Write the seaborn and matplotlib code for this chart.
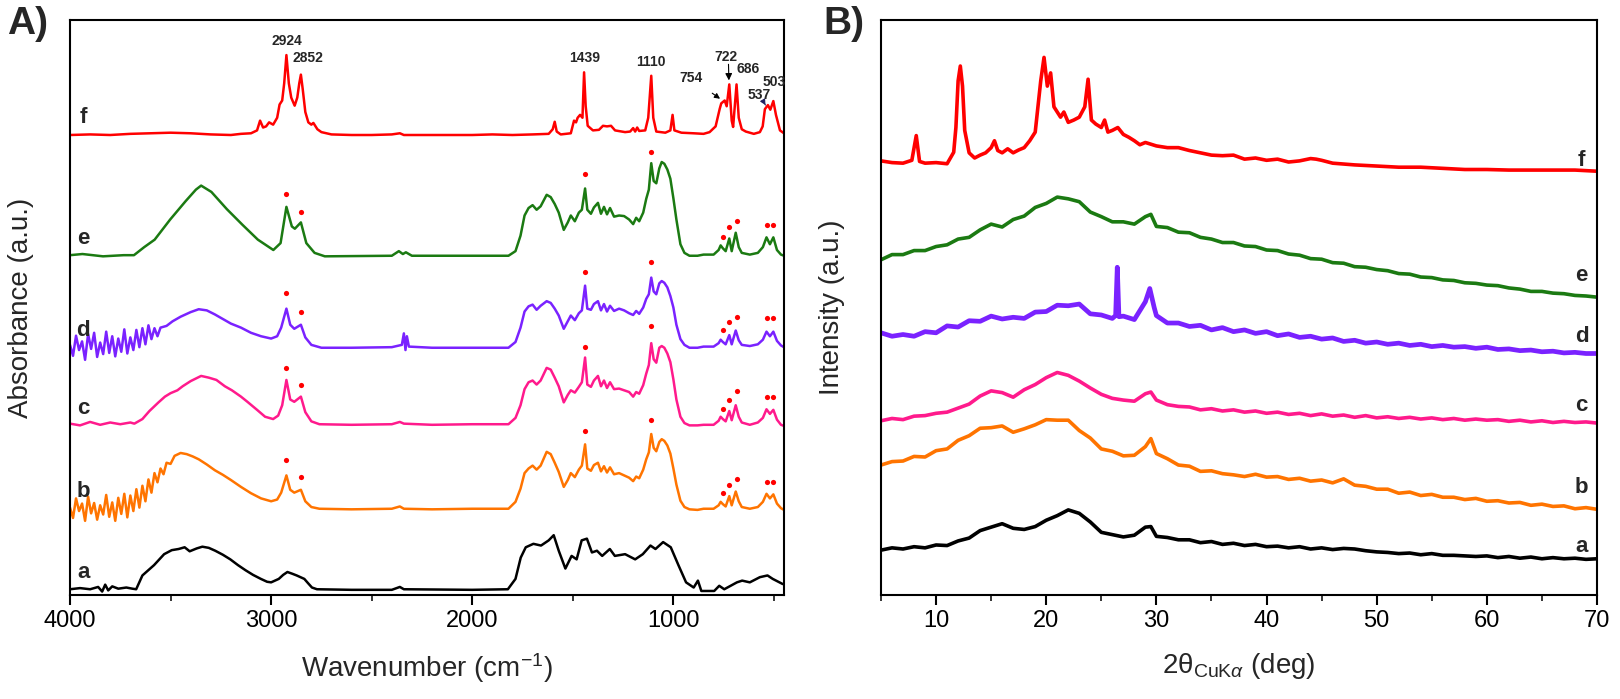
import matplotlib
matplotlib.use("Agg")
import matplotlib.pyplot as plt
from matplotlib.ticker import MultipleLocator
import pandas as pd
import seaborn as sns

# ---------------- panel A: FTIR (wavenumber, absorbance a.u.) ----------------
A_A_X = [4000, 3950, 3900, 3860, 3840, 3825, 3810, 3790, 3760, 3720, 3690, 3671, 3640, 3582, 3532, 3494, 3460,
         3430, 3405, 3370, 3342, 3310, 3278, 3240, 3203, 3165, 3127, 3090, 3051, 3020, 3000, 2962, 2940, 2919,
         2895, 2873, 2835, 2815, 2797, 2772, 2600, 2400, 2360, 2340, 2000, 1823, 1785, 1759, 1734, 1696, 1658,
         1620, 1595, 1570, 1537, 1506, 1481, 1456, 1430, 1405, 1380, 1354, 1316, 1291, 1240, 1190, 1152, 1114,
         1089, 1051, 1013, 975, 937, 899, 878, 861, 797, 772, 747, 684, 658, 620, 570, 532, 506, 456]
A_A_Y = [1.0, 1.2, 1.0, 1.4, 0.6, 1.8, 0.8, 1.5, 1.1, 1.3, 1.1, 1.0, 3.4, 5.2, 7.1, 7.8, 8.0,
         8.3, 7.6, 8.1, 8.4, 8.2, 7.7, 7.0, 6.2, 5.2, 4.3, 3.5, 2.8, 2.3, 2.2, 2.8, 3.5, 4.0,
         3.7, 3.4, 2.8, 2.0, 1.3, 1.0, 0.9, 0.9, 1.4, 1.0, 0.9, 1.0, 2.8, 6.5, 8.3, 8.9, 8.6,
         9.5, 10.4, 7.7, 4.6, 6.8, 6.2, 9.5, 9.8, 7.4, 7.7, 6.8, 8.0, 6.8, 7.1, 6.2, 7.1, 8.6,
         8.0, 9.2, 8.3, 5.2, 2.2, 1.3, 2.5, 0.7, 0.7, 1.6, 1.0, 2.2, 2.5, 2.2, 3.1, 3.4, 2.8, 1.9]

A_B_X = [4000, 3985, 3970, 3955, 3940, 3925, 3910, 3895, 3880, 3865, 3850, 3835, 3820, 3805, 3790, 3775, 3760,
         3745, 3730, 3715, 3700, 3685, 3670, 3655, 3640, 3625, 3610, 3595, 3580, 3565, 3550, 3535, 3520, 3500,
         3480, 3450, 3420, 3390, 3360, 3320, 3280, 3240, 3200, 3150, 3100, 3050, 3000, 2970, 2950, 2924, 2905,
         2885, 2852, 2830, 2800, 2760, 2600, 2400, 2360, 2340, 2200, 2000, 1820, 1785, 1760, 1740, 1720, 1700,
         1680, 1660, 1630, 1610, 1590, 1570, 1545, 1525, 1510, 1490, 1470, 1455, 1439, 1428, 1410, 1395, 1375,
         1360, 1345, 1330, 1315, 1295, 1270, 1245, 1220, 1200, 1185, 1170, 1150, 1135, 1122, 1110, 1098, 1085,
         1070, 1058, 1045, 1030, 1015, 1000, 985, 965, 945, 920, 880, 850, 800, 775, 765, 754, 740, 722, 710,
         690, 675, 660, 620, 580, 555, 537, 520, 503, 485, 465, 450]
A_B_Y = [15.2, 13.4, 16.8, 14.6, 15.9, 12.9, 17.1, 14.2, 16.0, 13.1, 15.6, 14.0, 17.4, 13.6, 16.1, 12.9, 16.9,
         14.1, 17.6, 13.5, 17.3, 14.6, 18.4, 15.2, 19.0, 16.3, 20.1, 17.8, 21.2, 19.6, 22.0, 21.0, 23.0, 22.8,
         24.2, 24.7, 24.5, 24.1, 23.6, 22.7, 21.7, 20.9, 20.0, 18.8, 17.7, 16.8, 16.3, 16.6, 17.8, 20.8, 18.3,
         17.8, 18.3, 16.3, 15.3, 15.0, 14.9, 15.0, 15.4, 15.0, 14.9, 15.0, 15.0, 16.2, 18.5, 21.2, 22.0, 22.5,
         21.8, 22.5, 24.9, 24.5, 23.0, 21.4, 18.8, 20.0, 21.2, 20.5, 21.8, 22.5, 26.2, 22.0, 21.6, 22.6, 23.0,
         21.5, 22.4, 21.3, 22.2, 21.0, 21.2, 20.8, 20.4, 19.8, 20.6, 20.3, 21.8, 23.6, 24.8, 28.0, 25.6, 25.0,
         26.6, 27.1, 26.8, 26.0, 24.6, 22.0, 19.2, 16.4, 15.3, 14.9, 14.8, 15.0, 15.0, 15.6, 16.2, 15.8, 15.4,
         17.2, 15.6, 18.0, 16.3, 15.3, 15.0, 15.3, 16.2, 17.6, 16.8, 17.5, 15.9, 15.1, 14.8]

A_C_X = [4000, 3950, 3900, 3850, 3800, 3750, 3700, 3680, 3640, 3605, 3560, 3528, 3500, 3466, 3440, 3400, 3348,
         3310, 3272, 3230, 3195, 3150, 3118, 3070, 3030, 2990, 2965, 2945, 2924, 2905, 2885, 2852, 2830, 2800,
         2760, 2600, 2400, 2360, 2340, 2200, 2000, 1820, 1785, 1760, 1740, 1720, 1700, 1680, 1660, 1630, 1610,
         1590, 1570, 1545, 1525, 1510, 1490, 1470, 1455, 1439, 1428, 1410, 1395, 1375, 1360, 1345, 1330, 1315,
         1295, 1270, 1245, 1220, 1200, 1185, 1170, 1150, 1135, 1122, 1110, 1098, 1085, 1070, 1058, 1045, 1030,
         1015, 1000, 985, 965, 945, 920, 880, 850, 800, 775, 765, 754, 740, 722, 710, 690, 675, 660, 620, 580,
         555, 537, 520, 503, 485, 465, 450]
A_C_Y = [29.8, 29.5, 30.1, 29.6, 30.0, 29.7, 30.0, 29.8, 30.6, 32.0, 33.5, 34.5, 35.1, 35.6, 36.3, 37.2, 38.1,
         37.8, 37.4, 36.3, 35.6, 34.5, 33.6, 32.2, 31.0, 30.6, 31.2, 33.0, 37.4, 34.0, 33.6, 34.5, 31.8, 30.2,
         29.7, 29.6, 29.7, 30.1, 29.8, 29.6, 29.7, 29.7, 30.8, 33.0, 35.8, 37.0, 37.3, 36.6, 37.3, 39.5, 39.2,
         37.8, 36.3, 33.5, 34.8, 35.6, 35.2, 36.2, 37.0, 41.3, 36.6, 36.2, 37.3, 38.1, 36.3, 37.3, 36.0, 37.0,
         35.8, 35.9, 35.6, 35.3, 34.5, 35.3, 35.0, 36.5, 38.5, 40.0, 43.8, 41.0, 40.4, 43.0, 43.3, 43.0, 42.0,
         40.5, 37.5, 34.0, 31.0, 29.9, 29.5, 29.5, 29.6, 29.6, 30.3, 31.0, 30.6, 30.2, 32.0, 30.4, 33.0, 31.0,
         30.0, 29.6, 30.0, 30.8, 32.3, 31.5, 32.2, 30.5, 29.6, 29.4]

A_D_X = [4000, 3985, 3970, 3955, 3940, 3925, 3910, 3895, 3880, 3865, 3850, 3835, 3820, 3805, 3790, 3775, 3760,
         3745, 3730, 3715, 3700, 3685, 3670, 3655, 3640, 3625, 3610, 3595, 3580, 3565, 3550, 3520, 3490, 3450,
         3400, 3360, 3320, 3280, 3240, 3200, 3150, 3100, 3050, 3000, 2970, 2950, 2924, 2905, 2885, 2852, 2830,
         2800, 2750, 2600, 2400, 2350, 2340, 2332, 2325, 2315, 2200, 2000, 1820, 1785, 1760, 1740, 1720, 1700,
         1680, 1660, 1630, 1610, 1590, 1570, 1545, 1525, 1510, 1490, 1470, 1455, 1439, 1428, 1410, 1395, 1375,
         1360, 1345, 1330, 1315, 1295, 1270, 1245, 1220, 1200, 1185, 1170, 1150, 1135, 1122, 1110, 1098, 1085,
         1070, 1058, 1045, 1030, 1015, 1000, 985, 965, 945, 920, 880, 850, 800, 775, 765, 754, 740, 722, 710,
         690, 675, 660, 620, 580, 555, 537, 520, 503, 485, 465, 450]
A_D_Y = [43.5, 41.6, 45.1, 42.6, 44.1, 40.9, 45.4, 42.8, 45.6, 41.4, 43.9, 41.9, 45.8, 42.1, 45.0, 41.5, 44.6,
         42.3, 46.2, 42.0, 44.8, 42.6, 46.1, 43.1, 46.4, 43.6, 46.9, 44.5, 46.4, 45.0, 46.5, 46.8, 47.6, 48.4,
         49.2, 49.7, 49.5, 48.8, 48.0, 47.2, 46.5, 45.6, 45.0, 44.6, 45.0, 46.5, 49.8, 47.0, 46.3, 47.0, 44.8,
         43.5, 43.0, 43.0, 43.1, 43.5, 45.5, 42.6, 45.0, 43.2, 43.0, 43.0, 43.0, 44.0, 46.5, 49.3, 50.2, 50.5,
         49.6, 50.3, 51.1, 50.8, 49.8, 48.6, 46.3, 47.6, 48.6, 47.8, 49.0, 49.5, 53.8, 49.8, 49.6, 50.6, 51.1,
         49.5, 50.6, 49.3, 50.3, 49.4, 49.8, 49.5, 49.0, 48.7, 49.4, 48.9, 50.0, 51.5, 52.3, 55.2, 52.8, 52.3,
         54.2, 54.6, 54.3, 53.5, 52.0, 50.0, 47.0, 44.5, 43.5, 43.0, 43.0, 43.2, 43.2, 43.8, 44.4, 44.0, 43.6,
         45.2, 43.6, 46.0, 44.3, 43.5, 43.3, 43.6, 44.4, 45.8, 45.0, 45.8, 44.2, 43.4, 43.1]

A_E_X = [4000, 3938, 3836, 3733, 3682, 3631, 3579, 3502, 3425, 3374, 3348, 3297, 3220, 3143, 3066, 2989, 2953,
         2924, 2897, 2882, 2852, 2825, 2784, 2733, 2400, 2365, 2345, 2330, 2300, 2000, 1820, 1785, 1760, 1740,
         1720, 1700, 1680, 1660, 1630, 1610, 1590, 1570, 1545, 1525, 1510, 1490, 1470, 1455, 1439, 1428, 1410,
         1395, 1375, 1360, 1345, 1330, 1315, 1295, 1270, 1245, 1220, 1200, 1185, 1170, 1150, 1135, 1122, 1110,
         1098, 1085, 1070, 1058, 1045, 1030, 1015, 1000, 985, 965, 945, 920, 880, 850, 800, 775, 765, 754, 740,
         722, 710, 690, 675, 660, 620, 580, 555, 537, 520, 503, 485, 465, 450]
A_E_Y = [59.1, 59.3, 58.9, 59.1, 59.1, 60.5, 61.8, 65.3, 68.5, 70.5, 71.2, 70.1, 67.1, 64.4, 61.8, 60.0, 61.2,
         67.5, 64.1, 63.7, 64.8, 61.2, 59.5, 58.9, 59.0, 59.8, 59.3, 59.6, 59.0, 59.0, 59.0, 59.8, 62.5, 66.0,
         67.3, 67.8, 67.0, 67.6, 69.6, 69.2, 68.0, 66.5, 63.5, 64.8, 66.0, 65.0, 66.5, 67.0, 70.7, 67.0, 66.3,
         67.4, 68.2, 66.3, 67.5, 66.2, 67.3, 65.8, 66.0, 65.9, 65.3, 64.5, 65.6, 65.0, 66.5, 68.9, 70.5, 75.1,
         72.0, 71.6, 74.2, 75.3, 75.0, 74.0, 72.4, 69.0, 65.3, 61.0, 59.5, 59.0, 59.0, 59.2, 59.2, 60.0, 60.8,
         60.3, 59.8, 62.0, 59.8, 63.0, 60.5, 59.5, 59.2, 59.5, 60.5, 62.2, 61.0, 62.2, 60.0, 59.2, 59.0]

A_F_X = [4000, 3900, 3800, 3700, 3600, 3500, 3400, 3300, 3200, 3150, 3100, 3070, 3055, 3040, 3025, 3010, 2990,
         2970, 2958, 2945, 2935, 2924, 2912, 2900, 2883, 2870, 2860, 2852, 2843, 2830, 2815, 2800, 2790, 2770,
         2750, 2700, 2600, 2500, 2400, 2360, 2340, 2200, 2000, 1900, 1800, 1700, 1620, 1600, 1590, 1580, 1560,
         1510, 1494, 1484, 1476, 1464, 1452, 1444, 1436, 1426, 1400, 1370, 1350, 1330, 1310, 1290, 1240, 1215,
         1200, 1190, 1180, 1170, 1140, 1125, 1110, 1100, 1085, 1040, 1015, 1004, 995, 960, 900, 850, 820, 790,
         770, 762, 745, 735, 722, 710, 703, 686, 675, 660, 640, 600, 570, 556, 545, 530, 518, 503, 490, 470, 450]
A_F_Y = [80.0, 80.1, 80.0, 80.2, 80.3, 80.4, 80.3, 80.1, 80.0, 80.2, 80.3, 80.8, 82.5, 81.3, 81.5, 82.2, 81.8,
         83.0, 85.3, 86.0, 89.0, 93.9, 89.0, 86.5, 85.1, 86.5, 89.0, 90.5, 88.0, 84.0, 82.2, 81.8, 82.1, 81.0,
         80.5, 80.1, 80.0, 80.0, 80.1, 80.3, 80.0, 80.0, 80.0, 80.1, 80.0, 80.1, 80.2, 81.0, 82.3, 80.6, 80.1,
         80.3, 82.5, 82.2, 83.0, 83.5, 83.0, 90.9, 85.0, 81.6, 80.8, 80.9, 81.6, 81.5, 81.6, 80.8, 80.5, 80.6,
         81.2, 80.6, 81.3, 80.7, 80.8, 83.0, 90.3, 83.0, 80.6, 80.4, 80.8, 83.5, 80.8, 80.4, 80.3, 80.2, 80.5, 81.5,
         84.5, 85.5, 86.0, 85.0, 88.8, 82.5, 81.4, 88.8, 83.0, 81.0, 80.6, 80.2, 80.5, 81.5, 84.5, 85.2, 84.4,
         85.9, 83.5, 80.8, 80.3]

COLORS = {"a": "#000000", "b": "#ff7400", "c": "#ff1a8c", "d": "#7a22ff", "e": "#1b7a12", "f": "#ff0000"}

# red dot markers above the assigned bands (curves b-e)
DOT_CM = [2924, 2852, 1439, 1110, 754, 722, 686, 537, 503]
DOT_E = [69.8, 66.6, 73.2, 77.0, 62.3, 64.0, 65.0, 64.3, 64.3]
DOT_D = [52.5, 49.3, 56.1, 58.0, 46.1, 47.5, 48.4, 48.1, 48.1]
DOT_C = [39.5, 36.5, 43.1, 46.8, 32.4, 34.0, 35.4, 34.5, 34.5]
DOT_B = [23.5, 20.6, 28.6, 30.4, 17.8, 19.2, 20.2, 19.6, 19.6]

FTIR_LABEL_Y = {"a": 4.0, "b": 18.0, "c": 32.5, "d": 46.0, "e": 62.0, "f": 83.0}

# ---------------- panel B: XRD (2theta, intensity a.u.) ----------------
XRD_X = [5, 6, 7, 8, 9, 10, 11, 12, 13, 14, 15, 16, 17, 18, 19, 20, 21, 22, 23, 24, 25, 26, 27, 28, 29, 29.5,
         30, 31, 32, 33, 34, 35, 36, 37, 38, 39, 40, 41, 42, 43, 44, 45, 46, 47, 48, 49, 50, 51, 52, 53, 54,
         55, 56, 57, 58, 59, 60, 61, 62, 63, 64, 65, 66, 67, 68, 69, 70]
B_A_Y = [7.8, 8.2, 8.0, 8.4, 8.2, 8.7, 8.6, 9.4, 9.9, 11.2, 11.8, 12.4, 11.6, 11.4, 11.9, 13.0, 13.8, 14.8,
         14.2, 12.7, 10.9, 10.5, 10.1, 10.4, 11.8, 11.9, 10.2, 10.0, 9.6, 9.6, 9.1, 9.3, 8.8, 9.0, 8.6, 8.8, 8.4,
         8.5, 8.2, 8.4, 8.0, 8.2, 7.9, 8.1, 8.0, 7.7, 7.5, 7.4, 7.2, 7.3, 7.0, 7.2, 6.9, 6.9, 6.8, 6.7, 6.8, 6.5,
         6.7, 6.4, 6.6, 6.3, 6.5, 6.3, 6.4, 6.2, 6.3]
B_B_Y = [22.6, 23.2, 23.3, 24.1, 24.0, 25.1, 25.4, 26.9, 27.7, 29.0, 29.1, 29.4, 28.3, 28.9, 29.6, 30.5, 30.4,
         30.4, 28.6, 27.3, 25.4, 25.0, 24.2, 24.3, 25.8, 27.2, 24.6, 23.7, 22.6, 22.4, 21.5, 21.6, 21.1, 20.9,
         20.6, 21.0, 20.5, 20.6, 20.1, 20.3, 19.8, 20.0, 19.5, 20.2, 19.1, 18.9, 18.4, 18.4, 17.7, 17.9, 17.3,
         17.5, 17.0, 17.0, 16.6, 16.8, 16.3, 16.4, 16.0, 16.1, 15.6, 15.8, 15.4, 15.5, 15.0, 15.2, 14.9]
B_C_Y = [30.3, 30.7, 30.5, 31.1, 31.2, 31.6, 31.8, 32.5, 33.2, 34.6, 35.5, 35.2, 34.4, 35.7, 36.6, 37.8, 38.7,
         38.2, 37.2, 36.0, 34.9, 34.2, 33.9, 33.7, 35.0, 35.3, 33.9, 33.1, 32.8, 32.7, 32.2, 32.4, 32.0, 32.2,
         31.8, 32.0, 31.6, 31.8, 31.4, 31.6, 31.2, 31.5, 31.1, 31.3, 30.9, 31.2, 30.8, 31.0, 30.7, 30.9, 30.6,
         30.8, 30.5, 30.7, 30.4, 30.6, 30.4, 30.5, 30.2, 30.4, 30.1, 30.3, 30.0, 30.2, 30.0, 30.1, 29.9]
B_E_Y = [58.3, 59.2, 59.2, 59.9, 59.9, 60.6, 60.9, 61.9, 62.2, 63.5, 64.5, 64.0, 65.3, 65.9, 67.4, 68.1, 69.2,
         68.9, 68.4, 66.6, 65.8, 64.9, 64.9, 64.5, 65.8, 66.2, 64.1, 63.9, 63.1, 63.0, 62.2, 61.9, 61.3, 61.3,
         60.7, 60.6, 60.0, 59.9, 59.3, 59.1, 58.5, 58.4, 57.8, 57.7, 57.1, 57.0, 56.6, 56.4, 55.9, 55.8, 55.3,
         55.2, 54.8, 54.7, 54.3, 54.2, 53.9, 53.8, 53.4, 53.2, 52.8, 52.8, 52.5, 52.4, 52.1, 52.0, 51.8]

B_D_X = [5, 6, 7, 8, 9, 10, 11, 12, 13, 14, 15, 16, 17, 18, 19, 20, 21, 22, 23, 24, 25, 26, 26.3, 26.45, 26.6,
         27, 28, 29, 29.4, 29.8, 30, 31, 32, 33, 34, 35, 36, 37, 38, 39, 40, 41, 42, 43, 44, 45, 46, 47, 48, 49,
         50, 51, 52, 53, 54, 55, 56, 57, 58, 59, 60, 61, 62, 63, 64, 65, 66, 67, 68, 69, 70]
B_D_Y = [45.6, 45.0, 45.3, 45.0, 45.8, 45.6, 46.8, 46.6, 47.7, 47.6, 48.5, 48.0, 48.3, 48.1, 49.2, 49.3, 50.4,
         50.3, 50.6, 48.9, 48.7, 48.1, 48.6, 57.0, 48.4, 48.5, 47.9, 51.0, 53.3, 50.0, 48.6, 47.3, 47.3, 46.7,
         46.9, 46.1, 46.5, 45.8, 46.1, 45.5, 45.8, 45.1, 45.4, 44.8, 45.0, 44.5, 44.7, 44.1, 44.3, 43.8, 44.0,
         43.6, 43.8, 43.4, 43.6, 43.2, 43.4, 43.1, 43.2, 42.9, 43.1, 42.7, 42.8, 42.5, 42.6, 42.3, 42.4, 42.1,
         42.2, 42.0, 42.0]

B_F_X = [5, 6, 7, 7.8, 8.2, 8.5, 9, 10, 11, 11.6, 11.8, 12.0, 12.2, 12.4, 12.6, 13, 13.5, 14, 14.5, 15, 15.3,
         15.6, 16, 16.5, 17, 17.5, 18, 18.5, 19, 19.5, 19.8, 20.1, 20.4, 20.7, 21, 21.3, 21.6, 22, 22.5, 23,
         23.5, 23.8, 24.1, 24.5, 25, 25.3, 25.6, 26, 26.5, 27, 27.5, 28, 28.5, 29, 30, 31, 32, 33, 34, 35, 36,
         37, 38, 39, 40, 41, 42, 43, 44, 44.5, 45, 46, 48, 50, 52, 54, 56, 58, 60, 62, 64, 66, 68, 70]
B_F_Y = [75.5, 75.2, 75.1, 75.6, 79.9, 75.4, 75.1, 75.2, 75.0, 77.0, 81.3, 89.4, 92.0, 88.5, 80.8, 76.9, 76.0,
         76.5, 76.9, 77.8, 79.0, 77.3, 76.9, 77.6, 76.9, 77.4, 77.8, 79.0, 80.5, 89.4, 93.5, 88.5, 90.8, 84.9,
         84.0, 83.1, 84.0, 82.2, 82.6, 83.1, 84.9, 89.7, 82.6, 81.9, 81.3, 82.6, 80.5, 80.8, 81.3, 80.1, 79.6,
         79.0, 78.3, 78.7, 78.1, 77.8, 77.8, 77.3, 76.9, 76.5, 76.4, 76.5, 75.8, 76.0, 75.6, 75.8, 75.3, 75.5,
         75.9, 75.8, 75.6, 75.1, 74.8, 74.6, 74.4, 74.4, 74.2, 74.0, 74.0, 73.9, 73.9, 73.9, 73.9, 73.7]

XRD_LABEL_Y = {"a": 8.5, "b": 18.7, "c": 32.9, "d": 45.0, "e": 55.6, "f": 75.5}


def spectrum(x, y, name):
    return pd.DataFrame({"x": x, "y": y, "sample": name})


sns.set_theme(style="ticks")
plt.rcParams["font.family"] = ["Liberation Sans", "DejaVu Sans"]
plt.rcParams["mathtext.fontset"] = "custom"
plt.rcParams["mathtext.rm"] = "Liberation Sans"
plt.rcParams["mathtext.it"] = "Liberation Sans:italic"

fig = plt.figure(figsize=(16.2, 6.99), dpi=100)
ax1 = fig.add_axes([70 / 1620, 1 - 595 / 699, 714 / 1620, 575 / 699])
ax2 = fig.add_axes([881 / 1620, 1 - 595 / 699, 716 / 1620, 575 / 699])

ftir = pd.concat([
    spectrum(A_A_X, A_A_Y, "a"), spectrum(A_B_X, A_B_Y, "b"), spectrum(A_C_X, A_C_Y, "c"),
    spectrum(A_D_X, A_D_Y, "d"), spectrum(A_E_X, A_E_Y, "e"), spectrum(A_F_X, A_F_Y, "f"),
], ignore_index=True)
sns.lineplot(data=ftir, x="x", y="y", hue="sample", palette=COLORS, sort=False,
             estimator=None, linewidth=1.8, legend=False, ax=ax1)

dots = pd.concat([
    pd.DataFrame({"x": DOT_CM, "y": DOT_E}), pd.DataFrame({"x": DOT_CM, "y": DOT_D}),
    pd.DataFrame({"x": DOT_CM, "y": DOT_C}), pd.DataFrame({"x": DOT_CM, "y": DOT_B}),
], ignore_index=True)
sns.scatterplot(data=dots, x="x", y="y", color="#ff0000", s=14, linewidth=0, ax=ax1, zorder=5)

for name, yy in FTIR_LABEL_Y.items():
    ax1.text(3935, yy, name, fontsize=16, fontweight="bold", ha="center", va="center", zorder=10)

peak_kw = dict(fontsize=10, fontweight="bold", ha="center", va="center")
ax1.text(2924, 96.3, "2924", **peak_kw)
ax1.text(2815, 93.4, "2852", **peak_kw)
ax1.text(1439, 93.4, "1439", **peak_kw)
ax1.text(1110, 92.7, "1110", **peak_kw)
ax1.text(738, 93.6, "722", **peak_kw)
ax1.text(628, 91.5, "686", **peak_kw)
ax1.text(501, 89.2, "503", **peak_kw)
ax1.annotate("754", xy=(768, 86.3), xytext=(912, 89.9), ha="center", va="center",
             fontsize=10, fontweight="bold",
             arrowprops=dict(arrowstyle="-|>", color="black", lw=0.8, mutation_scale=8,
                             shrinkA=6, shrinkB=0))
ax1.annotate("", xy=(724, 89.5), xytext=(726, 92.3),
             arrowprops=dict(arrowstyle="-|>", color="black", lw=0.8, mutation_scale=10,
                             shrinkA=0, shrinkB=0))
ax1.annotate("537", xy=(542, 85.2), xytext=(572, 87.0), ha="center", va="center",
             fontsize=10, fontweight="bold",
             arrowprops=dict(arrowstyle="-|>", color="#202060", lw=0.8, mutation_scale=8,
                             shrinkA=4, shrinkB=0))

ax1.set_xlim(4000, 450)
ax1.set_ylim(0, 100)
ax1.xaxis.set_major_locator(MultipleLocator(1000))
ax1.xaxis.set_minor_locator(MultipleLocator(500))
ax1.set_xlabel("Wavenumber (cm$^{-1}$)", fontsize=20, labelpad=14)
ax1.set_ylabel("Absorbance (a.u.)", fontsize=20, labelpad=26)

xrd = pd.concat([
    spectrum(XRD_X, B_A_Y, "a"), spectrum(XRD_X, B_B_Y, "b"), spectrum(XRD_X, B_C_Y, "c"),
    spectrum(XRD_X, B_E_Y, "e"), spectrum(B_F_X, B_F_Y, "f"),
], ignore_index=True)
sns.lineplot(data=xrd, x="x", y="y", hue="sample", palette=COLORS, sort=False,
             estimator=None, linewidth=2.6, legend=False, ax=ax2)
# sample d is the noisiest trace, drawn with a heavier stroke
sns.lineplot(x=B_D_X, y=B_D_Y, color=COLORS["d"], sort=False, estimator=None,
             linewidth=3.4, ax=ax2)

for name, yy in XRD_LABEL_Y.items():
    ax2.text(68.6, yy, name, fontsize=16, fontweight="bold", ha="center", va="center", zorder=10)

ax2.set_xlim(5, 70)
ax2.set_ylim(0, 100)
ax2.xaxis.set_major_locator(MultipleLocator(10))
ax2.xaxis.set_minor_locator(MultipleLocator(5))
ax2.set_xlabel(r"2θ$_{\mathrm{CuK}α}$ (deg)", fontsize=20, labelpad=14)
ax2.set_ylabel("Intensity (a.u.)", fontsize=20, labelpad=26)

for ax in (ax1, ax2):
    ax.set_yticks([])
    for sp in ax.spines.values():
        sp.set_visible(True)
        sp.set_linewidth(1.5)
        sp.set_color("black")
    ax.tick_params(axis="x", which="major", direction="out", length=7, width=1.5,
                   labelsize=17, colors="black", bottom=True)
    ax.tick_params(axis="x", which="minor", direction="out", length=4, width=1.3, bottom=True)

fig.text(7 / 1620, 1 - 6 / 699, "A)", fontsize=28, fontweight="bold", va="top", ha="left")
fig.text(823 / 1620, 1 - 6 / 699, "B)", fontsize=28, fontweight="bold", va="top", ha="left")

fig.savefig("out.png", dpi=100)
